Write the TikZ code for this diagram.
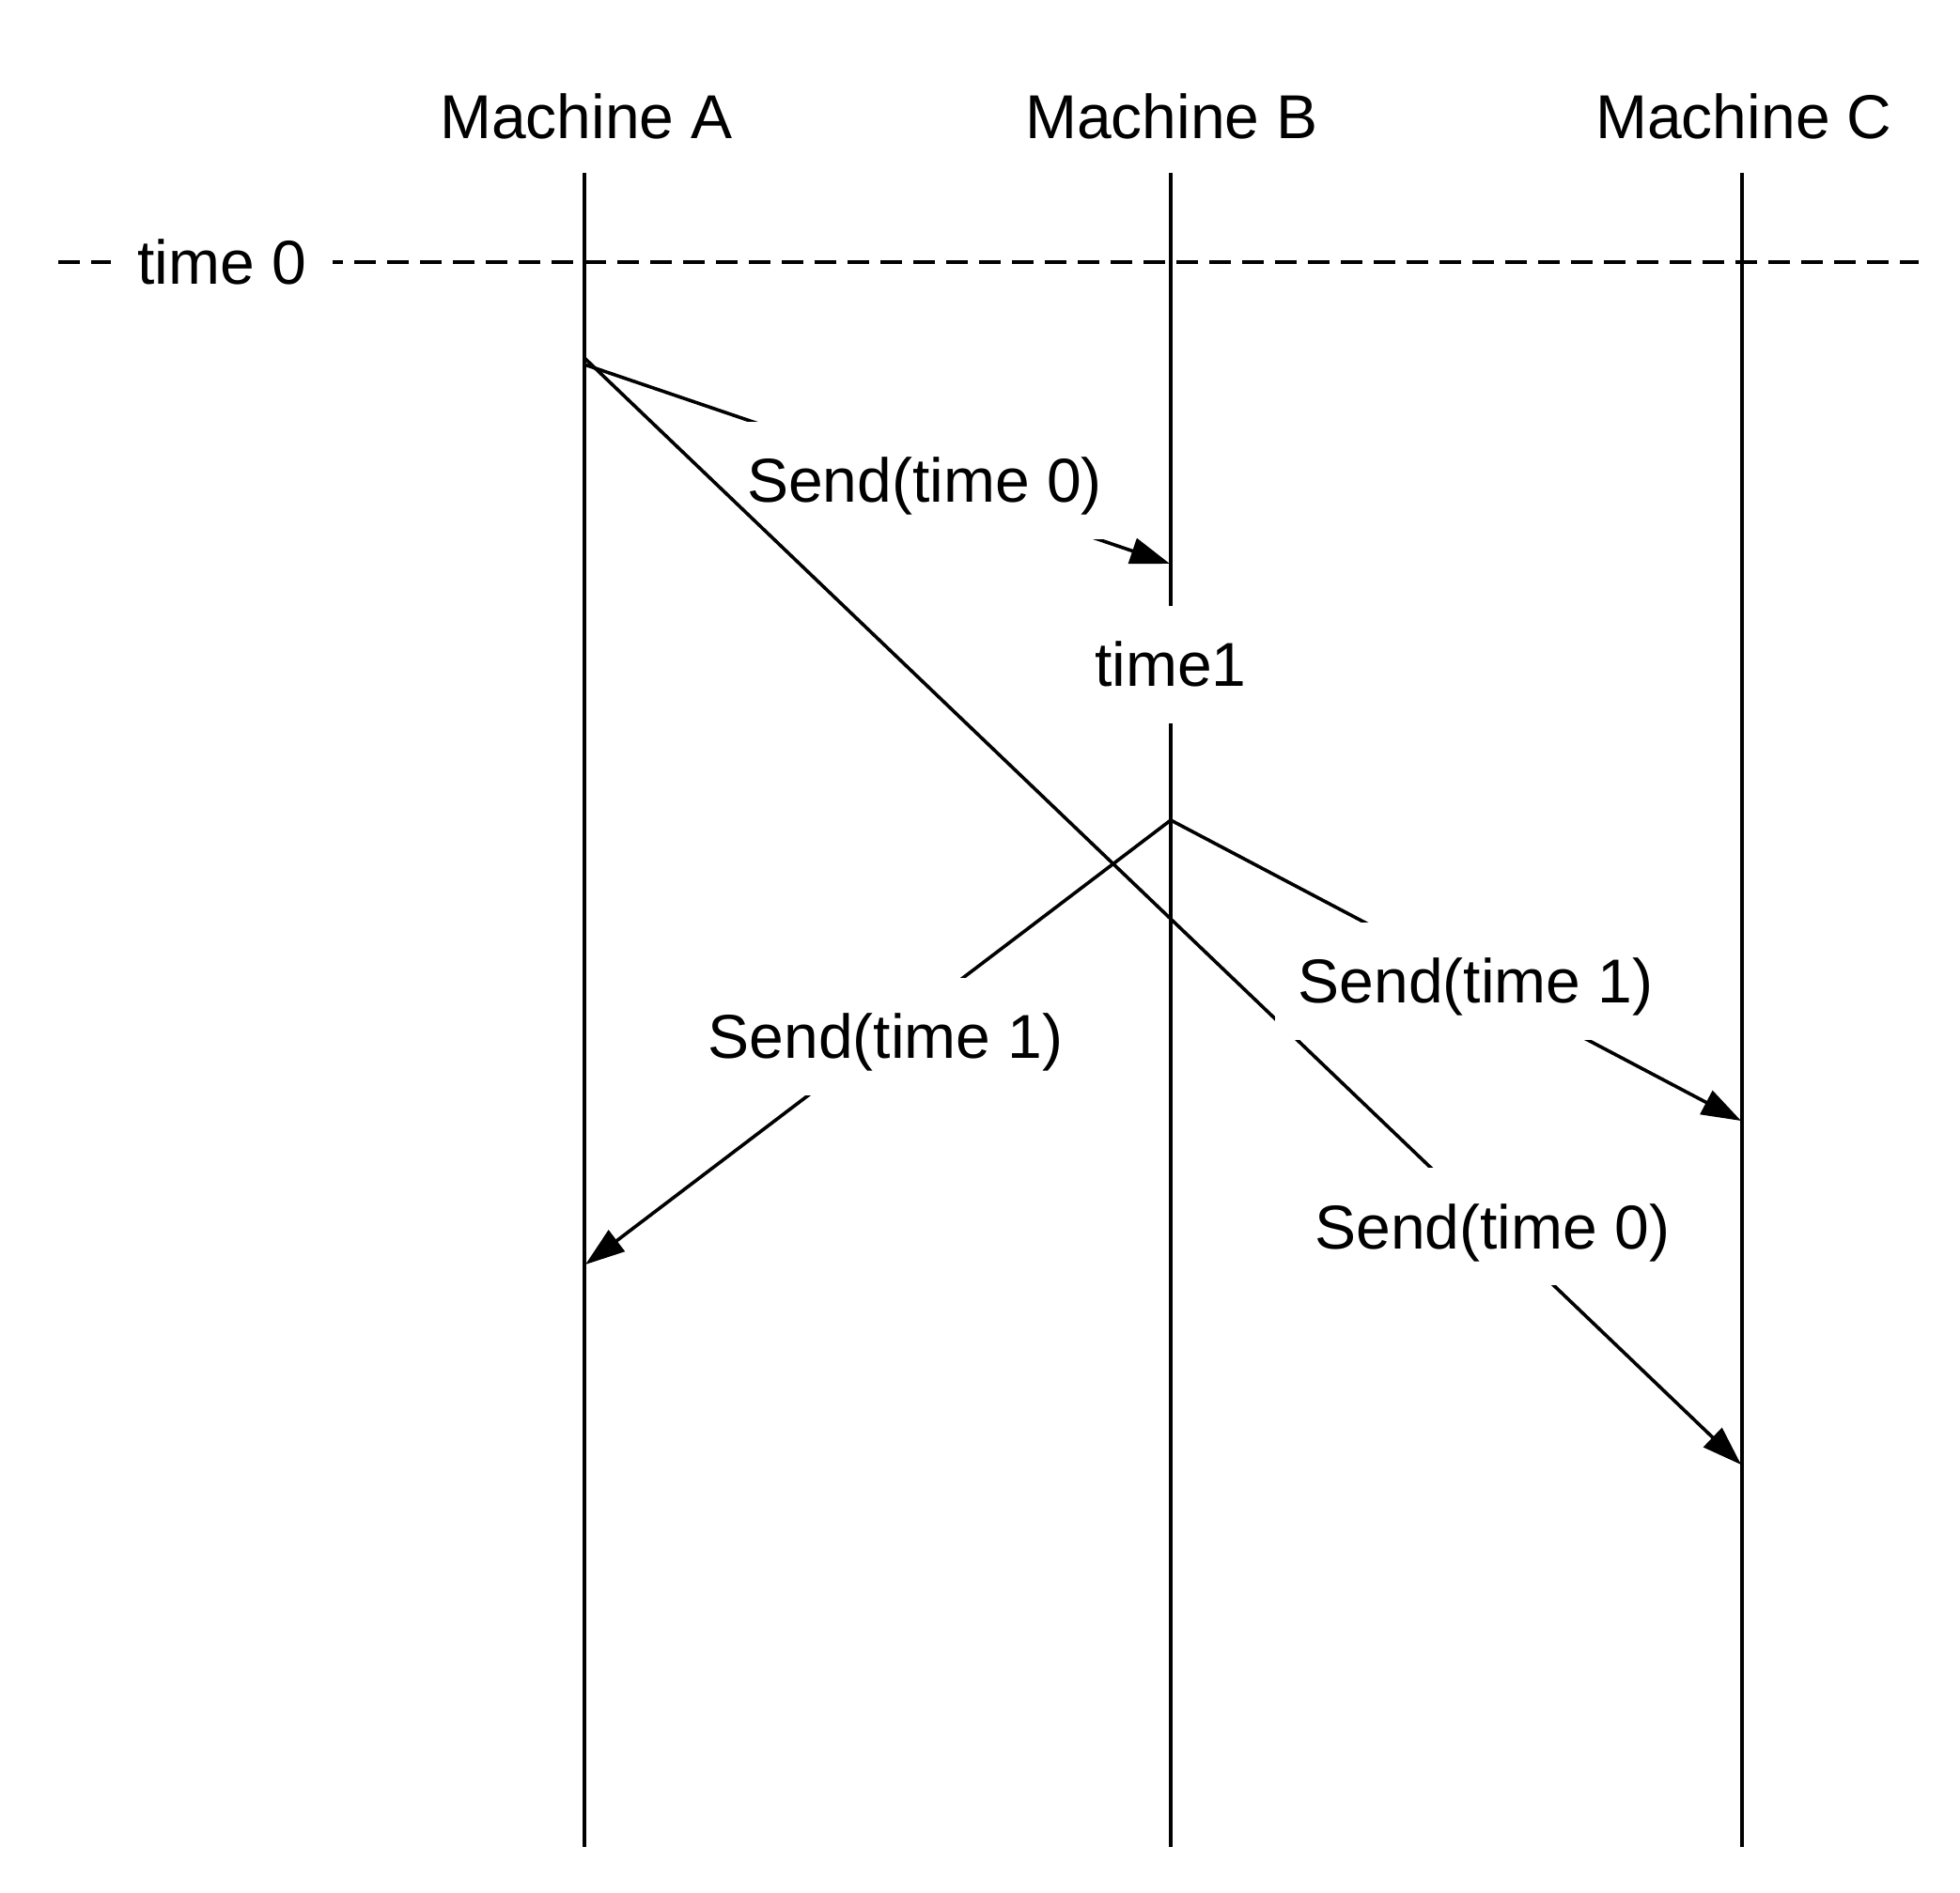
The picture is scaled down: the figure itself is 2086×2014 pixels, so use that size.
\documentclass[tikz,border=0pt]{standalone}
\usepackage{fontspec}
\setmainfont{Liberation Sans}
\usetikzlibrary{arrows.meta}
\begin{document}
\begin{tikzpicture}[x=0.5pt,y=-0.5pt,
  txt/.style={font=\fontsize{33}{40}\selectfont},
  head/.style={txt, anchor=base, inner sep=0pt},
  life/.style={line width=1.8pt},
  msg/.style={line width=1.8pt, -{Triangle[length=21pt,width=14pt]}},
  lbl/.style={txt, fill=white, inner xsep=12.5pt, inner ysep=0pt,
    minimum height=62.5pt, text height=23.6pt, text depth=0pt},
  timeline/.style={line width=1.8pt, dash pattern=on 11.5pt off 6pt}
]
\useasboundingbox (0,0) rectangle (2086,2014);

% headers
\node[head] (hA) at (624,147) {Machine A};
\node[head] (hB) at (1247,147) {Machine B};
\node[head] (hC) at (1856,147) {Machine C};

% lifeline ends
\coordinate (At) at (622,184);  \coordinate (Ab) at (622,1966);
\coordinate (Bt) at (1246,184); \coordinate (Bb) at (1246,1966);
\coordinate (Ct) at (1854,184); \coordinate (Cb) at (1854,1966);

% time 0 line
\coordinate (T0l) at (62,279);
\coordinate (T0r) at (2042,279);
\draw[timeline] (T0l) -- (T0r);
\node[lbl, inner xsep=14pt] (t0) at (236,279) {time 0};

% lifelines
\draw[life] (At) -- (Ab);
\draw[life] (Bt) -- (Bb);
\draw[life] (Ct) -- (Cb);
\node[lbl] (t1) at (1246,707) {time1};

% message end points
\coordinate (A0) at (622,381);
\coordinate (A1) at (622,388);
\coordinate (B0) at (1245,600);
\coordinate (B1) at (1246,873);
\coordinate (C0) at (1853,1559);
\coordinate (C1) at (1853,1193);
\coordinate (A2) at (623,1346);

% messages (order matters for masking)
\draw[msg] (A1) -- node[lbl, pos=0.581] (m1) {Send(time 0)} (B0);
\draw[msg] (A0) -- node[lbl, pos=0.785] (m2) {Send(time 0)} (C0);
\draw[msg] (B1) -- node[lbl, pos=0.535] (m3) {Send(time 1)} (C1);
\draw[msg] (B1) -- node[lbl, pos=0.487] (m4) {Send(time 1)} (A2);
\end{tikzpicture}
\end{document}
